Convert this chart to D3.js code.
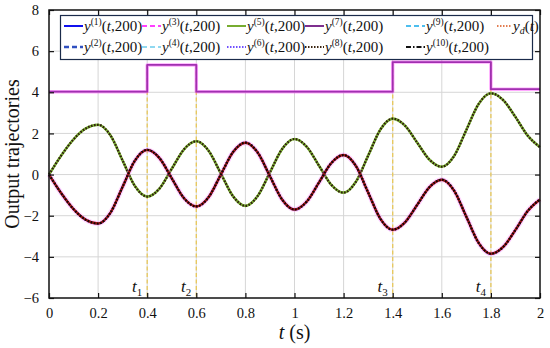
<!DOCTYPE html>
<html>
<head>
<meta charset="utf-8">
<script src="https://cdn.jsdelivr.net/npm/d3@7"></script>
<style>
    body { margin: 0; background: #fff; }
    svg text { font-family: "Liberation Serif", "Times New Roman", serif; fill: #111; }
</style>
</head>
<body>
<svg id="chart" width="550" height="348"></svg>
<script>
const timeS = [0, 0.05, 0.1, 0.15, 0.2, 0.25, 0.3, 0.35, 0.4, 0.45, 0.5, 0.55, 0.6, 0.65, 0.7, 0.75, 0.8, 0.85, 0.9, 0.95,
               1, 1.05, 1.1, 1.15, 1.2, 1.25, 1.3, 1.35, 1.4, 1.45, 1.5, 1.55, 1.6, 1.65, 1.7, 1.75, 1.8, 1.85, 1.9, 1.95, 2];
const outA = [0, 0.93, 1.71, 2.24, 2.42, 1.91, 0.68, -0.56, -1.07, -0.68, 0.28, 1.23, 1.62, 1.16, 0.05, -1.06, -1.52, -1.04, 0.11, 1.25,
              1.73, 1.35, 0.43, -0.50, -0.88, -0.35, 0.92, 2.19, 2.72, 2.38, 1.55, 0.72, 0.38, 0.90, 2.17, 3.43, 3.95, 3.62, 2.80, 1.89, 1.33];
const outB = [0, -0.91, -1.68, -2.20, -2.38, -1.86, -0.59, 0.68, 1.20, 0.80, -0.18, -1.15, -1.55, -1.10, 0, 1.10, 1.55, 1.07, -0.08, -1.22,
              -1.70, -1.31, -0.38, 0.56, 0.95, 0.42, -0.87, -2.15, -2.68, -2.32, -1.47, -0.61, -0.25, -0.78, -2.05, -3.32, -3.85, -3.52, -2.69, -1.77, -1.21];
const stepT = [0, 0.4, 0.6, 1.4, 1.8, 2];
const stepV = [4.03, 5.33, 4.03, 5.47, 4.15, 4.15];
const switchT = [0.4, 0.6, 1.4, 1.8];
const switchTop = [5.33, 5.33, 5.47, 5.47];
const switchNames = ["1", "2", "3", "4"];
const xTicks = [0, 0.2, 0.4, 0.6, 0.8, 1, 1.2, 1.4, 1.6, 1.8, 2];
const yTicks = [-6, -4, -2, 0, 2, 4, 6, 8];
const legendSup = ["1", "3", "5", "7", "9", "d", "2", "4", "6", "8", "10"];

const margin = {top: 10, right: 10, bottom: 50, left: 49};
const width = 540 - margin.left;
const height = 298 - margin.top;

const svg = d3.select("#chart");
const chart = svg.append("g").attr("transform", "translate(" + margin.left + "," + margin.top + ")");

const xScale = d3.scaleLinear().domain([0, 2]).range([0, width]);
const yScale = d3.scaleLinear().domain([-6, 8]).range([height, 0]);

// grid
chart.append("g").selectAll("line").data(xTicks.slice(1, -1)).enter().append("line")
    .attr("x1", d => xScale(d)).attr("x2", d => xScale(d))
    .attr("y1", 0).attr("y2", height)
    .attr("stroke", "#d6d6d6").attr("stroke-width", 1);
chart.append("g").selectAll("line").data(yTicks.slice(1, -1)).enter().append("line")
    .attr("y1", d => yScale(d)).attr("y2", d => yScale(d))
    .attr("x1", 0).attr("x2", width)
    .attr("stroke", "#d6d6d6").attr("stroke-width", 1);

// switching instants
chart.append("g").selectAll("line").data(switchT).enter().append("line")
    .attr("x1", d => xScale(d)).attr("x2", d => xScale(d))
    .attr("y1", (d, i) => yScale(switchTop[i])).attr("y2", height)
    .attr("stroke", "#e8c85a").attr("stroke-width", 1.3)
    .attr("stroke-dasharray", "4,2.5");

const tData = timeS.map((t, i) => ({t: t, a: outA[i], b: outB[i]}));
const stepData = stepT.map((t, i) => ({t: t, v: stepV[i]}));

const lineA = d3.line().x(d => xScale(d.t)).y(d => yScale(d.a)).curve(d3.curveMonotoneX);
const lineB = d3.line().x(d => xScale(d.t)).y(d => yScale(d.b)).curve(d3.curveMonotoneX);
const lineStep = d3.line().x(d => xScale(d.t)).y(d => yScale(d.v)).curve(d3.curveStepAfter);

function drawPath(data, fn, color, w, dash, op) {
    chart.append("path").datum(data)
        .attr("d", fn)
        .attr("fill", "none")
        .attr("stroke", color)
        .attr("stroke-width", w)
        .attr("stroke-dasharray", dash)
        .attr("stroke-opacity", op === undefined ? 1 : op)
        .attr("stroke-linejoin", "round");
}

// step component: y3 under y7
drawPath(stepData, lineStep, "#ff40ff", 3.5, null, 0.45);
drawPath(stepData, lineStep, "#a030b0", 1.8, null);

// component A: green with dark dots
drawPath(tData, lineA, "#77ac30", 2.6, null);
drawPath(tData, lineA, "#2e1c0c", 2.2, "1.6,1.5");

// component B: pink halo, red, dark dots
drawPath(tData, lineB, "#ff60ff", 5, null, 0.25);
drawPath(tData, lineB, "#7050ff", 2.8, "1.5,1.5", 0.8);
drawPath(tData, lineB, "#a81818", 2.4, null);
drawPath(tData, lineB, "#140505", 2.2, "1.8,1.4");

// switch labels
const tl = chart.append("g").selectAll("text").data(switchT).enter().append("text")
    .attr("x", d => xScale(d) - 5).attr("y", height - 6)
    .attr("text-anchor", "end")
    .style("font-size", "17px").style("font-style", "italic");
tl.append("tspan").text("t");
tl.append("tspan").attr("dy", 4).style("font-size", "11px").style("font-style", "normal")
    .text((d, i) => switchNames[i]);

// frame and axes (ticks inward)
chart.append("g").attr("class", "x axis").attr("transform", "translate(0," + height + ")")
    .call(d3.axisBottom(xScale).tickValues(xTicks).tickSizeInner(-5).tickSizeOuter(0).tickPadding(10).tickFormat(d3.format("")));
chart.append("g").attr("class", "y axis")
    .call(d3.axisLeft(yScale).tickValues(yTicks).tickSizeInner(-5).tickSizeOuter(0).tickPadding(10).tickFormat(d => d < 0 ? "\u2212" + Math.abs(d) : d));
chart.append("g").attr("transform", "translate(0,0)")
    .call(d3.axisTop(xScale).tickValues(xTicks).tickSizeInner(-5).tickSizeOuter(0).tickFormat(""));
chart.append("g").attr("transform", "translate(" + width + ",0)")
    .call(d3.axisRight(yScale).tickValues(yTicks).tickSizeInner(-5).tickSizeOuter(0).tickFormat(""));
chart.selectAll(".domain").remove();
chart.selectAll(".tick line").attr("stroke", "#111").attr("stroke-width", 1.2);
chart.selectAll(".tick text").style("font-size", "14.5px").attr("fill", "#111");
chart.append("rect").attr("width", width).attr("height", height)
    .attr("fill", "none").attr("stroke", "#111").attr("stroke-width", 1.5);

// legend
const legendStyle = [
    {color: "#1010ee", dash: null, w: 2},
    {color: "#ff40ff", dash: "5,3", w: 2},
    {color: "#77ac30", dash: null, w: 2},
    {color: "#7e2f8e", dash: null, w: 2},
    {color: "#4dbeee", dash: "5,3", w: 2},
    {color: "#d95319", dash: "1.5,1.5", w: 1.6},
    {color: "#3050c0", dash: "5,3", w: 2.4},
    {color: "#8fd8f0", dash: "5,3", w: 2},
    {color: "#7050ff", dash: "1.5,1.5", w: 1.8},
    {color: "#3a2410", dash: "1.5,1.5", w: 1.8},
    {color: "#111111", dash: "5,2,1.5,2", w: 2}
];
const colX = [64, 142, 227, 305, 406, 497];
const rowY = [26, 47];
const legend = svg.append("g");
legend.append("rect").attr("x", 60.5).attr("y", 15.5).attr("width", 472).attr("height", 44)
    .attr("fill", "#fff").attr("stroke", "#1a2a4a").attr("stroke-width", 1.2);

legendSup.forEach((s, i) => {
    const row = i < 6 ? 0 : 1;
    const col = i < 6 ? i : i - 6;
    const x0 = colX[col], y0 = rowY[row];
    const len = col === 5 ? 15 : 19;
    const st = legendStyle[i];
    legend.append("line").attr("x1", x0).attr("x2", x0 + len).attr("y1", y0).attr("y2", y0)
        .attr("stroke", st.color).attr("stroke-width", st.w).attr("stroke-dasharray", st.dash);
    const txt = legend.append("text").attr("x", x0 + len + 1).attr("y", y0 + 5).style("font-size", "15px");
    txt.append("tspan").style("font-style", "italic").text("y");
    if (s === "d") {
        txt.append("tspan").attr("dy", 3).style("font-size", "10px").style("font-style", "italic").text("d");
        txt.append("tspan").attr("dy", -3).text("(");
        txt.append("tspan").style("font-style", "italic").text("t");
        txt.append("tspan").text(")");
    } else {
        txt.append("tspan").attr("dy", -6).style("font-size", "9.5px").text("(" + s + ")");
        txt.append("tspan").attr("dy", 6).text("(");
        txt.append("tspan").style("font-style", "italic").text("t");
        txt.append("tspan").text(",200)");
    }
});

// axis titles
const xt = svg.append("text").attr("x", margin.left + width / 2).attr("y", 339)
    .attr("text-anchor", "middle").style("font-size", "20px");
xt.append("tspan").style("font-style", "italic").text("t");
xt.append("tspan").text(" (s)");
svg.append("text").attr("transform", "translate(19," + (margin.top + height / 2) + ") rotate(-90)")
    .attr("text-anchor", "middle").style("font-size", "20px").text("Output trajectories");
</script>
</body>
</html>
